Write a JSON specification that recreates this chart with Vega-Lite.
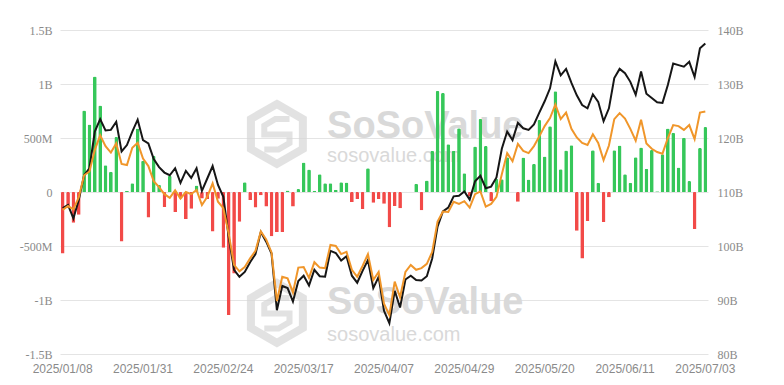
{
"$schema": "https://vega.github.io/schema/vega-lite/v6.json",
"width": 648,
"height": 324,
"autosize": {"type": "none"},
"padding": {"left": 60, "top": 30, "right": 76, "bottom": 31},
"background": "white",
"config": {"view": {"stroke": null}, "axis": {"domain": false, "ticks": false, "labelColor": "#8a8a8a", "labelFontSize": 12, "titleColor": "#8a8a8a"}},
"data": {"values": [
{"date":"2025/01/08","flow":-569,"assets":107.0,"other":106.7},
{"date":"2025/01/10","flow":-149,"assets":107.6,"other":107.4},
{"date":"2025/01/13","flow":-284,"assets":105.1,"other":106.8},
{"date":"2025/01/14","flow":-210,"assets":108.5,"other":109.0},
{"date":"2025/01/15","flow":755,"assets":113.1,"other":113.1},
{"date":"2025/01/16","flow":626,"assets":114.4,"other":113.8},
{"date":"2025/01/17","flow":1070,"assets":121.2,"other":117.8},
{"date":"2025/01/21","flow":802,"assets":123.5,"other":120.5},
{"date":"2025/01/22","flow":248,"assets":121.4,"other":118.5},
{"date":"2025/01/23","flow":188,"assets":121.5,"other":117.3},
{"date":"2025/01/24","flow":510,"assets":123.0,"other":119.0},
{"date":"2025/01/27","flow":-458,"assets":117.5,"other":115.2},
{"date":"2025/01/28","flow":10,"assets":118.7,"other":115.0},
{"date":"2025/01/29","flow":80,"assets":121.2,"other":118.2},
{"date":"2025/01/30","flow":588,"assets":123.4,"other":119.1},
{"date":"2025/01/31","flow":290,"assets":119.6,"other":116.2},
{"date":"2025/02/03","flow":-235,"assets":119.0,"other":114.8},
{"date":"2025/02/04","flow":335,"assets":116.1,"other":112.0},
{"date":"2025/02/05","flow":66,"assets":114.6,"other":110.9},
{"date":"2025/02/06","flow":-140,"assets":113.6,"other":109.6},
{"date":"2025/02/07","flow":150,"assets":113.1,"other":108.9},
{"date":"2025/02/10","flow":-186,"assets":114.4,"other":110.3},
{"date":"2025/02/11","flow":-60,"assets":111.7,"other":108.8},
{"date":"2025/02/12","flow":-251,"assets":113.9,"other":110.0},
{"date":"2025/02/13","flow":-156,"assets":112.6,"other":109.6},
{"date":"2025/02/14","flow":60,"assets":114.4,"other":110.4},
{"date":"2025/02/18","flow":-60,"assets":110.2,"other":107.6},
{"date":"2025/02/19","flow":-65,"assets":112.5,"other":109.1},
{"date":"2025/02/20","flow":-365,"assets":114.8,"other":111.6},
{"date":"2025/02/21","flow":-62,"assets":111.3,"other":108.2},
{"date":"2025/02/24","flow":-517,"assets":109.1,"other":107.0},
{"date":"2025/02/25","flow":-1140,"assets":101.7,"other":102.3},
{"date":"2025/02/26","flow":-754,"assets":95.6,"other":96.5},
{"date":"2025/02/27","flow":-275,"assets":94.3,"other":95.3},
{"date":"2025/02/28","flow":90,"assets":95.2,"other":96.1},
{"date":"2025/03/03","flow":-74,"assets":97.0,"other":97.7},
{"date":"2025/03/04","flow":-143,"assets":98.5,"other":99.1},
{"date":"2025/03/05","flow":-30,"assets":102.6,"other":102.7},
{"date":"2025/03/06","flow":-134,"assets":100.8,"other":101.2},
{"date":"2025/03/07","flow":-409,"assets":98.6,"other":98.8},
{"date":"2025/03/10","flow":-371,"assets":88.1,"other":89.8},
{"date":"2025/03/11","flow":-371,"assets":92.6,"other":94.3},
{"date":"2025/03/12","flow":13,"assets":92.2,"other":94.0},
{"date":"2025/03/13","flow":-135,"assets":89.7,"other":91.4},
{"date":"2025/03/14","flow":28,"assets":93.5,"other":96.0},
{"date":"2025/03/17","flow":274,"assets":94.5,"other":96.1},
{"date":"2025/03/18","flow":209,"assets":92.7,"other":94.1},
{"date":"2025/03/19","flow":11,"assets":95.6,"other":97.0},
{"date":"2025/03/20","flow":165,"assets":94.4,"other":96.0},
{"date":"2025/03/21","flow":80,"assets":94.3,"other":95.9},
{"date":"2025/03/24","flow":80,"assets":99.1,"other":100.2},
{"date":"2025/03/25","flow":20,"assets":98.7,"other":100.0},
{"date":"2025/03/26","flow":90,"assets":97.3,"other":98.5},
{"date":"2025/03/27","flow":89,"assets":98.1,"other":98.9},
{"date":"2025/03/28","flow":-93,"assets":94.5,"other":95.6},
{"date":"2025/03/31","flow":-65,"assets":93.2,"other":94.3},
{"date":"2025/04/01","flow":-157,"assets":95.4,"other":96.3},
{"date":"2025/04/02","flow":220,"assets":97.4,"other":98.5},
{"date":"2025/04/03","flow":-99,"assets":92.2,"other":93.7},
{"date":"2025/04/04","flow":-64,"assets":94.3,"other":95.2},
{"date":"2025/04/07","flow":-109,"assets":88.0,"other":89.3},
{"date":"2025/04/08","flow":-326,"assets":85.7,"other":87.2},
{"date":"2025/04/09","flow":-130,"assets":91.7,"other":93.4},
{"date":"2025/04/10","flow":-150,"assets":88.6,"other":90.5},
{"date":"2025/04/11","flow":2,"assets":93.8,"other":95.2},
{"date":"2025/04/14","flow":2,"assets":94.5,"other":96.5},
{"date":"2025/04/15","flow":76,"assets":93.7,"other":95.6},
{"date":"2025/04/16","flow":-169,"assets":93.6,"other":95.9},
{"date":"2025/04/17","flow":107,"assets":94.4,"other":96.7},
{"date":"2025/04/21","flow":381,"assets":97.7,"other":98.9},
{"date":"2025/04/22","flow":936,"assets":103.6,"other":104.5},
{"date":"2025/04/23","flow":917,"assets":106.4,"other":106.4},
{"date":"2025/04/24","flow":442,"assets":107.1,"other":106.3},
{"date":"2025/04/25","flow":381,"assets":109.2,"other":108.2},
{"date":"2025/04/28","flow":591,"assets":109.3,"other":107.8},
{"date":"2025/04/29","flow":173,"assets":110.1,"other":108.3},
{"date":"2025/04/30","flow":-40,"assets":108.6,"other":107.1},
{"date":"2025/05/01","flow":422,"assets":112.0,"other":109.6},
{"date":"2025/05/02","flow":675,"assets":113.0,"other":110.1},
{"date":"2025/05/05","flow":425,"assets":110.7,"other":107.3},
{"date":"2025/05/06","flow":-85,"assets":111.0,"other":107.8},
{"date":"2025/05/07","flow":120,"assets":112.7,"other":109.1},
{"date":"2025/05/08","flow":117,"assets":118.0,"other":113.3},
{"date":"2025/05/09","flow":321,"assets":121.2,"other":117.2},
{"date":"2025/05/12","flow":2,"assets":119.6,"other":115.7},
{"date":"2025/05/13","flow":-91,"assets":122.8,"other":118.9},
{"date":"2025/05/14","flow":320,"assets":121.8,"other":117.6},
{"date":"2025/05/15","flow":115,"assets":121.5,"other":117.2},
{"date":"2025/05/16","flow":260,"assets":122.5,"other":118.5},
{"date":"2025/05/19","flow":667,"assets":124.7,"other":120.3},
{"date":"2025/05/20","flow":329,"assets":126.8,"other":122.2},
{"date":"2025/05/21","flow":608,"assets":129.2,"other":123.7},
{"date":"2025/05/22","flow":934,"assets":134.2,"other":126.2},
{"date":"2025/05/23","flow":211,"assets":131.6,"other":123.5},
{"date":"2025/05/27","flow":385,"assets":132.8,"other":124.7},
{"date":"2025/05/28","flow":432,"assets":130.2,"other":121.7},
{"date":"2025/05/29","flow":-358,"assets":127.9,"other":120.1},
{"date":"2025/05/30","flow":-616,"assets":126.1,"other":119.1},
{"date":"2025/06/02","flow":-268,"assets":125.5,"other":118.7},
{"date":"2025/06/03","flow":387,"assets":128.1,"other":120.7},
{"date":"2025/06/04","flow":86,"assets":126.7,"other":119.1},
{"date":"2025/06/05","flow":-278,"assets":123.1,"other":115.9},
{"date":"2025/06/06","flow":-48,"assets":125.5,"other":118.6},
{"date":"2025/06/09","flow":386,"assets":131.1,"other":123.5},
{"date":"2025/06/10","flow":431,"assets":132.8,"other":124.6},
{"date":"2025/06/11","flow":164,"assets":132.0,"other":123.6},
{"date":"2025/06/12","flow":86,"assets":130.4,"other":121.7},
{"date":"2025/06/13","flow":322,"assets":128.0,"other":119.5},
{"date":"2025/06/16","flow":412,"assets":132.3,"other":123.4},
{"date":"2025/06/17","flow":216,"assets":128.2,"other":119.0},
{"date":"2025/06/18","flow":389,"assets":127.4,"other":118.0},
{"date":"2025/06/20","flow":6,"assets":126.6,"other":117.4},
{"date":"2025/06/23","flow":350,"assets":126.5,"other":117.1},
{"date":"2025/06/24","flow":589,"assets":129.8,"other":120.0},
{"date":"2025/06/25","flow":548,"assets":133.8,"other":122.4},
{"date":"2025/06/26","flow":227,"assets":133.5,"other":122.2},
{"date":"2025/06/27","flow":502,"assets":133.2,"other":121.5},
{"date":"2025/06/30","flow":102,"assets":134.1,"other":122.4},
{"date":"2025/07/01","flow":-342,"assets":131.3,"other":119.8},
{"date":"2025/07/02","flow":407,"assets":136.6,"other":124.7},
{"date":"2025/07/03","flow":602,"assets":137.5,"other":124.9}
]},
"encoding": {
  "x": {"field": "date", "type": "ordinal", "sort": "ascending",
        "scale": {"paddingInner": 0.3, "paddingOuter": 0.15},
        "axis": {"title": null, "labelAngle": 0, "labelPadding": 9, "labelFont": "Liberation Sans", "labelFontSize": 12,
                 "values": ["2025/01/08","2025/01/31","2025/02/24","2025/03/17","2025/04/07","2025/04/29","2025/05/20","2025/06/11","2025/07/03"]}}
},
"layer": [
  {
    "layer": [
      {"data": {"values": [{"v": 537}, {"v": -1120}]},
       "mark": {"type": "point", "shape": "M0,-1L0.866,-0.5L0.866,0.5L0,1L-0.866,0.5L-0.866,-0.5Z", "filled": false, "stroke": "#d7d7d7", "strokeWidth": 8, "size": 3600},
       "encoding": {"x": {"datum": "2025/03/10", "type": "ordinal"}, "y": {"field": "v", "type": "quantitative"}}
      },
      {"data": {"values": [{"v": 537}, {"v": -1120}]},
       "mark": {"type": "point", "shape": "M0.42,-0.5L-0.05,-0.5L-0.42,-0.28L-0.42,0.02L0.42,0.02L0.42,0.3L0.05,0.52L-0.42,0.52", "filled": false, "stroke": "#d7d7d7", "strokeWidth": 6, "size": 3600},
       "encoding": {"x": {"datum": "2025/03/10", "type": "ordinal"}, "y": {"field": "v", "type": "quantitative"}}
      },
      {"data": {"values": [{"t": "SoSoValue", "v": 500}, {"t": "SoSoValue", "v": -1125}]},
       "mark": {"type": "text", "align": "left", "baseline": "alphabetic", "font": "Liberation Sans", "fontWeight": "bold", "fontSize": 38, "color": "#d9d9d9", "dx": 2},
       "encoding": {"x": {"datum": "2025/03/21", "type": "ordinal"}, "y": {"field": "v", "type": "quantitative"}, "text": {"field": "t"}}
      },
      {"data": {"values": [{"t": "sosovalue.com", "v": 275}, {"t": "sosovalue.com", "v": -1375}]},
       "mark": {"type": "text", "align": "left", "baseline": "alphabetic", "font": "Liberation Sans", "fontSize": 20, "color": "#d9d9d9", "dx": 2},
       "encoding": {"x": {"datum": "2025/03/21", "type": "ordinal"}, "y": {"field": "v", "type": "quantitative"}, "text": {"field": "t"}}
      },
      {"mark": {"type": "bar", "cornerRadiusEnd": 1.5},
       "encoding": {
         "y": {"field": "flow", "type": "quantitative",
               "scale": {"domain": [-1500, 1500], "nice": false, "zero": true},
               "axis": {"title": null, "values": [-1500,-1000,-500,0,500,1000,1500], "labelFont": "Liberation Serif", "labelPadding": 8, "gridColor": "#e4e4e4", "gridWidth": 1,
                        "labelExpr": "datum.value == 0 ? '0' : (abs(datum.value) >= 1000 ? (datum.value/1000) + 'B' : datum.value + 'M')"}},
         "color": {"condition": {"test": "datum.flow >= 0", "value": "#36c75a"}, "value": "#f24a48"}
       }
      }
    ]
  },
  {
    "layer": [
      {"mark": {"type": "line", "color": "#161616", "strokeWidth": 2},
       "encoding": {"y": {"field": "assets", "type": "quantitative",
          "scale": {"domain": [80, 140], "nice": false, "zero": false},
          "axis": {"orient": "right", "title": null, "grid": false, "values": [80,90,100,110,120,130,140], "labelFont": "Liberation Serif", "labelPadding": 9,
                   "labelExpr": "datum.value + 'B'"}}}
      },
      {"mark": {"type": "line", "color": "#f0962a", "strokeWidth": 2},
       "encoding": {"y": {"field": "other", "type": "quantitative"}}
      }
    ]
  }
],
"resolve": {"scale": {"y": "independent"}}
}
